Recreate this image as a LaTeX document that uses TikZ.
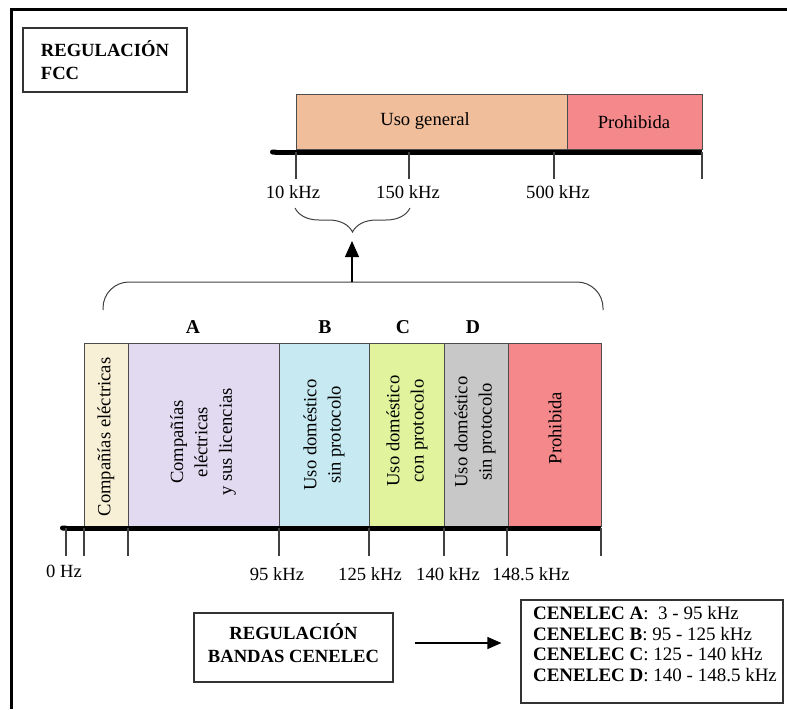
\documentclass[tikz,border=0pt]{standalone}
\usepackage{fontspec}
\setmainfont{Liberation Serif}
\usetikzlibrary{
    arrows.meta,
    positioning,
    calc,
    decorations.pathreplacing}
\definecolor{usogen}{HTML}{F0BE9B}
\definecolor{redband}{HTML}{F4888B}
\definecolor{creamband}{HTML}{F8F0D6}
\definecolor{lilaband}{HTML}{E1DAF1}
\definecolor{skyband}{HTML}{C6E9F2}
\definecolor{limeband}{HTML}{E1F49D}
\definecolor{greyband}{HTML}{C8C8C8}
\newcommand*{\fcctop}{94}
\newcommand*{\fccbot}{149}
\newcommand*{\fccaxis}{152}
\newcommand*{\fcctick}{179}
\newcommand*{\bandtop}{343}
\newcommand*{\bandbot}{526}
\newcommand*{\bandaxis}{528}
\newcommand*{\bandtick}{556}

\begin{document}
\begin{tikzpicture}[x=0.5pt,y=-0.5pt,
    every node/.style={font=\fontsize{9.3}{11.5}\selectfont},
    vert/.style={rotate=90, align=center, font=\fontsize{9.3}{12.2}\selectfont},
    band/.style={draw=black!70, line width=0.45pt},
    tick/.style={draw=black!75, line width=0.55pt},
    axis/.style={{Round Cap}-, line width=2.5pt},
    brace/.style={draw=black!75, line width=0.5pt},
    box/.style={draw=black!80, line width=0.6pt}]
    \useasboundingbox (0,0) rectangle (787,709);
    \draw [line width=1.5pt] (11,709) -- (11,9) -- (787,9);

    \node[box, minimum width=82pt, minimum height=32pt, align=left, font=\fontsize{9.3}{11.5}\selectfont\bfseries] (fccbox) at (105,60) {REGULACI\'ON\\FCC};

    \filldraw [band, fill=usogen] (296,\fcctop) rectangle (567,\fccbot);
    \filldraw [band, fill=redband] (567,\fcctop) rectangle (702,\fccbot);
    \node[] (usogeneral) at (425,121.5) {Uso general};
    \node[] (fccprohib) at (634,122) {Prohibida};
    \draw [axis] (270,\fccaxis) -- (702,\fccaxis);
    \foreach \x in {296,409,554,702} {
      \draw [tick] (\x,\fccaxis) -- (\x,\fcctick);
    }
    \node[] (f10) at (293,192) {10 kHz};
    \node[] (f150) at (408,192) {150 kHz};
    \node[] (f500) at (558,192) {500 kHz};

    \draw [brace, decorate, decoration={brace, amplitude=12pt}] (410,208) -- (295,208);
    \draw [brace, rounded corners=13pt] (103,310) -- (103,282) -- (603,282) -- (603,310);
    \coordinate (bigtip) at (352,282);
    \coordinate (smalltip) at (352,241);
    \draw [-{Triangle[length=8pt,width=7pt]}, line width=0.6pt] (bigtip) -- (smalltip);

    \node[font=\fontsize{9.8}{12}\selectfont\bfseries] (lblA) at (193,327) {A};
    \node[font=\fontsize{9.8}{12}\selectfont\bfseries] (lblB) at (325,327) {B};
    \node[font=\fontsize{9.8}{12}\selectfont\bfseries] (lblC) at (403,327) {C};
    \node[font=\fontsize{9.8}{12}\selectfont\bfseries] (lblD) at (473,327) {D};

    \foreach \xa/\xb/\col in {84/128/creamband, 128/279/lilaband, 279/369/skyband,
        369/444/limeband, 444/508/greyband, 508/601/redband} {
      \filldraw [band, fill=\col] (\xa,\bandtop) rectangle (\xb,\bandbot);
    }
    \node[vert] (bandE) at (106,437) {Compa\~n\'ias el\'ectricas};
    \node[vert] (bandA) at (203,442) {Compa\~n\'ias\\el\'ectricas\\y sus licencias};
    \node[vert] (bandB) at (324,435) {Uso dom\'estico\\sin protocolo};
    \node[vert] (bandC) at (407,431) {Uso dom\'estico\\con protocolo};
    \node[vert] (bandD) at (475,432) {Uso dom\'estico\\sin protocolo};
    \node[vert] (bandP) at (555,428) {Prohibida};
    \draw [axis] (60,\bandaxis) -- (601,\bandaxis);
    \foreach \x in {66,84,128,279,369,444,507,601} {
      \draw [tick] (\x,\bandaxis) -- (\x,\bandtick);
    }
    \node[] (hz0) at (64,571) {0 Hz};
    \node[] (k95) at (277,574) {95 kHz};
    \node[] (k125) at (370,574) {125 kHz};
    \node[] (k140) at (448,574) {140 kHz};
    \node[] (k148) at (531,574) {148.5 kHz};

    \node[box, minimum width=99.5pt, minimum height=34.5pt] (regcen) at (293.5,647.5) {};
    \node[align=center, font=\fontsize{9.3}{11.5}\selectfont\bfseries] (regcentxt) at (293.5,643.5) {REGULACI\'ON\\BANDAS CENELEC};
    \node[box, minimum width=131pt, minimum height=51.5pt] (cenbox) at (652,651.5) {};
    \node[align=left, font=\fontsize{9.5}{10.3}\selectfont] (cenlist) at (655,644) {\textbf{CENELEC A}:~ 3 - 95 kHz\\\textbf{CENELEC B}: 95 - 125 kHz\\\textbf{CENELEC C}: 125 - 140 kHz\\\textbf{CENELEC D}: 140 - 148.5 kHz};
    \draw [-{Triangle[length=7pt,width=6pt]}, line width=0.6pt, shorten <=10.5pt, shorten >=9.5pt] ([yshift=2.25pt]regcen.east) -- ([yshift=2.25pt]regcen.east -| cenbox.west);
  \end{tikzpicture}
\end{document}
